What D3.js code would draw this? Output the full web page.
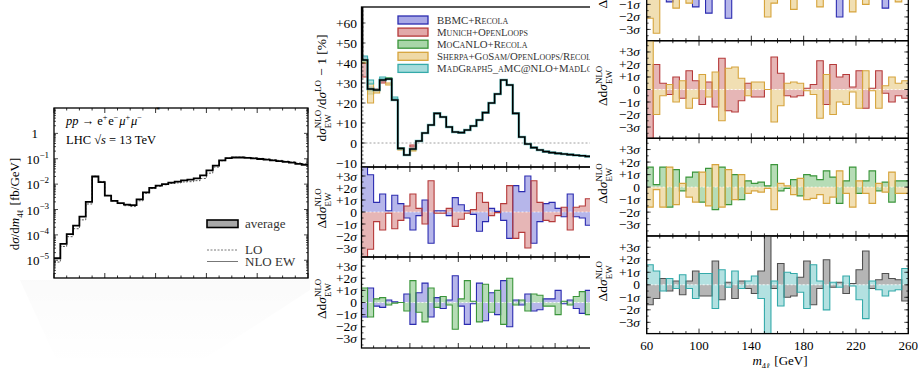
<!DOCTYPE html>
<html>
<head>
<meta charset="utf-8">
<script src="https://cdn.jsdelivr.net/npm/d3@7"></script>
<style>
  body { margin: 0; background: #fff; }
  svg { display: block; font-family: "Liberation Serif", "DejaVu Serif", serif; }
</style>
</head>
<body>
<svg id="chart" width="918" height="368"></svg>
<script>
// m4l bin edges [GeV]
const binEdges = [60, 65, 70, 75, 80, 85, 90, 95, 100, 105, 110, 115, 120, 125, 130, 135, 140, 145, 150, 155,
  160, 165, 170, 175, 180, 185, 190, 195, 200, 205, 210, 215, 220, 225, 230, 235, 240, 245, 250, 255, 260];

// d sigma / d m4l [fb/GeV]
const xsecNLO = [1.2e-5, 4.4e-5, 1.07e-4, 2.3e-4, 5.2e-4, 2.0e-3, 2.0e-2, 1.2e-2, 3.5e-3, 2.2e-3,
  1.8e-3, 1.55e-3, 1.5e-3, 2.5e-3, 4.7e-3, 7.1e-3, 8.7e-3, 1.0e-2, 1.15e-2, 1.25e-2,
  1.4e-2, 1.5e-2, 1.7e-2, 2.2e-2, 3.5e-2, 5.4e-2, 8.6e-2, 0.105, 0.112, 0.112,
  0.108, 0.103, 0.098, 0.092, 0.086, 0.081, 0.075, 0.070, 0.063, 0.058];
const xsecLO = [8.5e-6, 3.5e-5, 8.5e-5, 1.75e-4, 3.9e-4, 1.65e-3, 2.05e-2, 1.28e-2, 3.6e-3, 2.18e-3,
  1.71e-3, 1.42e-3, 1.31e-3, 2.21e-3, 4.35e-3, 6.7e-3, 8.3e-3, 9.4e-3, 1.06e-2, 1.12e-2,
  1.22e-2, 1.25e-2, 1.37e-2, 1.67e-2, 2.71e-2, 4.7e-2, 8.35e-2, 0.1055, 0.1146, 0.116,
  0.1128, 0.1082, 0.1034, 0.0974, 0.0913, 0.0863, 0.0801, 0.075, 0.0677, 0.0625];

// relative EW correction, average of the tools [%]
const relAverage = [41.5, 27, 26.5, 31.5, 32, 21.5, -2.7, -6, -3, 1,
  5, 9, 14.8, 13, 8, 5.5, 5.2, 6.5, 8.5, 11.5,
  15.2, 20, 24.5, 31.5, 29, 14.8, 3, -0.5, -2.3, -3.5,
  -4.3, -4.8, -5.2, -5.5, -5.8, -6.1, -6.4, -6.7, -7, -7.2];
// per-tool spread where it is visible: [tool, bin, low, high]
const relSpread = [
  ["bbmc", 0, 41, 43], ["munich", 0, 33, 40], ["mocanlo", 0, 40.5, 41.5], ["sherpa", 0, 40, 42], ["mg5", 0, 41.5, 43.5],
  ["bbmc", 1, 26.5, 28], ["munich", 1, 25, 26.5], ["mocanlo", 1, 24.5, 26], ["sherpa", 1, 20, 30], ["mg5", 1, 29.5, 31.5],
  ["munich", 2, 26, 27], ["sherpa", 2, 25, 26.5],
  ["mg5", 3, 32, 33], ["munich", 3, 30, 31], ["sherpa", 4, 29, 30], ["mocanlo", 4, 32, 32.6],
  ["mg5", 5, 22, 23], ["sherpa", 6, -3.5, -2.5], ["munich", 8, -2, -1], ["sherpa", 8, -4, -3.4]
];

// pairwise deviations in units of sigma (first tool; the second is its mirror)
const devBbmcMunich = [4.5, 3.1, 0.8, 1.5, 0.1, 1.4, 0.7, -0.5, -1.5, -0.3,
  1.0, -2.6, 0.1, 0.1, -0.3, 1.2, 0.6, 0.1, -0.2, -1.6,
  -0.8, 0.3, 0.05, -0.7, -2.2, 2.2, 1.7, 3.0, -2.6, -0.8,
  0.7, 0.8, 0.3, -0.4, 1.5, -0.4, -0.5, -1.1, -0.6, 0.5];
const devBbmcMocanlo = [-1.2, 1.2, -0.3, -0.4, 0.2, 0.05, 0.0, 0.7, -1.8, 0.8,
  1.6, -1.2, 0.4, -0.5, 0.2, 2.2, -0.3, -1.8, -0.1, 1.6,
  -1.5, 0.8, -1.0, 1.8, -2.0, 0.2, -0.2, 0.7, -0.7, -0.6,
  0.3, 0.3, 1.0, -0.1, 0.2, -0.5, -0.9, 1.0, 0.4, -0.3];
const devBbmcSherpa = [2.1, 3.3, 0.3, -0.8, 1.3, 0.4, 0.9, -1.2, 0.3, -1.7,
  0.5, 0.6, -2.1, 0.3, -0.4, 0.5, 0.2, -0.4, 2.0, 0.9,
  -0.3, 0.5, 1.4, -0.3, 0.6, 0.2, 1.2, -0.5, 0.6, -2.0,
  0.4, 1.6, 0.5, 1.0, 0.3, 0.2, -1.3, 0.3, 0.8, -0.5];
const devMunichSherpa = [-4.5, 2.0, 0.5, -0.4, 1.0, -0.7, 1.5, 0.7, -1.2, 0.6,
  -1.4, 2.5, -1.7, -1.8, -0.9, 0.5, -0.6, -0.6, 0.0, 2.6,
  1.3, -0.5, -0.6, -0.5, 0.1, 0.4, 2.3, -1.2, 2.0, 1.0,
  1.2, 0.2, 1.5, -1.5, 0.1, 1.5, -0.3, -1.0, -0.5, -0.7];
const devMocanloSherpa = [1.6, 0.2, 1.6, -1.6, 1.4, -0.3, 0.8, 1.2, -1.2, 1.5,
  -1.8, 1.6, -1.4, 1.0, -1.0, 0.5, 0.3, 0.4, 0.1, 1.8,
  -0.3, -0.1, 0.6, -0.7, 1.0, 0.9, 0.6, 1.3, 0.8, -1.3,
  0.5, 1.6, -0.5, 0.5, 1.3, -0.3, 0.4, -1.2, 0.5, 0.5];
const devAverageMg5 = [-1.6, -1.1, 0.5, -0.5, 0.3, -0.8, 0.3, 1.1, -0.9, -0.9,
  1.9, -1.2, 0.2, -1.1, 0.3, -0.3, -0.7, 1.1, 4.2, -0.3,
  1.7, -1.0, -0.9, 0.6, 1.9, -1.6, -0.3, 2.0, -0.2, 0.2,
  -0.7, 0.1, 1.2, 2.7, -0.3, 0.4, 0.9, 0.5, 0.4, -1.3];

const sigmaTicks = [-3, -2, -1, 0, 1, 2, 3];

const tools = {
  bbmc:    { name: "BBMC+Recola", fill: "#a9a9e6", stroke: "#2b2bb0" },
  munich:  { name: "Munich+OpenLoops", fill: "#e2a9a9", stroke: "#b53a3a" },
  mocanlo: { name: "MoCaNLO+Recola", fill: "#a9d6a9", stroke: "#3a953a" },
  sherpa:  { name: "Sherpa+GoSam/OpenLoops/Recola", fill: "#efd9a6", stroke: "#d6a43c" },
  mg5:     { name: "MadGraph5_aMC@NLO+MadLoop", fill: "#a6dcdc", stroke: "#34aaaa" },
  average: { name: "average", fill: "#a8a8a8", stroke: "#505050" }
};

const svg = d3.select("#chart");
const defs = svg.append("defs");
let clipCount = 0;
function clipRect(x, y, w, h) {
  const id = "clip" + (clipCount++);
  defs.append("clipPath").attr("id", id).append("rect")
    .attr("x", x).attr("y", y).attr("width", w).attr("height", h);
  return "url(#" + id + ")";
}

// step points: one point per bin start plus the last edge
function stepData(vals) {
  const pts = vals.map((v, i) => ({ m: binEdges[i], v: v }));
  pts.push({ m: binEdges[binEdges.length - 1], v: vals[vals.length - 1] });
  return pts;
}

// label built from pieces, with stacked super/subscripts
function mathLabel(parent, cx, cy, parts, opts) {
  opts = opts || {};
  const size = opts.size || 13;
  const g = parent.append("g")
    .attr("transform", "translate(" + cx + "," + cy + ")" + (opts.rotate ? " rotate(-90)" : ""));
  const inner = g.append("g");
  let x = 0;
  parts.forEach(p => {
    if (p.sup !== undefined || p.sub !== undefined) {
      let w = 0;
      if (p.sup) {
        const t = inner.append("text").attr("x", x).attr("y", -size * 0.42)
          .attr("font-size", size * 0.66).text(p.sup);
        w = Math.max(w, t.node().getComputedTextLength());
      }
      if (p.sub) {
        const t = inner.append("text").attr("x", x).attr("y", size * 0.3)
          .attr("font-size", size * 0.66).text(p.sub);
        w = Math.max(w, t.node().getComputedTextLength());
      }
      x += w + 0.8;
    } else {
      const t = inner.append("text").attr("x", x).attr("font-size", size)
        .attr("font-style", p.it ? "italic" : null).text(p.t.replace(/ /g, "\u00a0"));
      x += t.node().getComputedTextLength();
    }
  });
  const anchor = opts.anchor || "middle";
  const dx = anchor === "middle" ? -x / 2 : anchor === "end" ? -x : 0;
  inner.attr("transform", "translate(" + dx + "," + (opts.dy !== undefined ? opts.dy : size * 0.33) + ")");
  return g;
}

// x ticks on a horizontal edge, pointing into the panel
function xTicks(g, x, yEdge, dir) {
  for (let m = 60; m <= 260; m += 10) {
    const len = (m - 60) % 40 === 0 ? 5 : 2.5;
    g.append("line").attr("x1", x(m)).attr("x2", x(m))
      .attr("y1", yEdge).attr("y2", yEdge + dir * len)
      .attr("stroke", "#000").attr("stroke-width", 0.8);
  }
}
function yTicks(g, y, xL, xR, values, len) {
  values.forEach(v => {
    [[xL, 1], [xR, -1]].forEach(([xe, d]) => {
      g.append("line").attr("x1", xe).attr("x2", xe + d * len)
        .attr("y1", y(v)).attr("y2", y(v)).attr("stroke", "#000").attr("stroke-width", 0.7);
    });
  });
}

// one pairwise deviation panel
function deviationPanel(g, x, top, h, dom, vals, tA, tB, labelX, tickX) {
  const y = d3.scaleLinear().domain([-dom, dom]).range([top + h, top]);
  const clip = clipRect(x.range()[0], top, x.range()[1] - x.range()[0], h);
  const body = g.append("g").attr("clip-path", clip);
  const area = d3.area().curve(d3.curveStepAfter)
    .x(d => x(d.m)).y0(y(0)).y1(d => y(d.v));
  const line = d3.line().curve(d3.curveStepAfter)
    .x(d => x(d.m)).y(d => y(d.v));
  const series = [[stepData(vals), tools[tA]], [stepData(vals.map(v => -v)), tools[tB]]];
  series.forEach(([d, t]) => body.append("path").attr("d", area(d)).attr("fill", t.fill).attr("fill-opacity", 0.85));
  body.append("line").attr("x1", x.range()[0]).attr("x2", x.range()[1])
    .attr("y1", y(0)).attr("y2", y(0)).attr("stroke", "#fff").attr("stroke-width", 0.8)
    .attr("stroke-dasharray", "2,2");
  series.forEach(([d, t]) => body.append("path").attr("d", line(d)).attr("fill", "none")
    .attr("stroke", t.stroke).attr("stroke-width", 1.1));
  // axes
  yTicks(g, y, x.range()[0], x.range()[1], d3.range(-3.5, 3.51, 0.5), 2);
  yTicks(g, y, x.range()[0], x.range()[1], sigmaTicks, 4);
  xTicks(g, x, top + h, -1);
  xTicks(g, x, top, 1);
  g.append("rect").attr("x", x.range()[0]).attr("y", top)
    .attr("width", x.range()[1] - x.range()[0]).attr("height", h)
    .attr("fill", "none").attr("stroke", "#000").attr("stroke-width", 1.3);
  sigmaTicks.forEach(v => {
    const t = g.append("text").attr("x", tickX).attr("y", y(v) + 4.5)
      .attr("text-anchor", "end").attr("font-size", 13.5);
    if (v === 0) { t.text("0"); return; }
    t.append("tspan").text((v > 0 ? "+" : "\u2212") + Math.abs(v));
    t.append("tspan").attr("font-style", "italic").text("\u03c3");
  });
  mathLabel(g, labelX, top + h / 2 - 4, [{ t: "\u0394d" }, { t: "\u03c3", it: true }, { sup: "NLO", sub: "EW" }],
    { size: 13.5, rotate: true });
  return y;
}

// ================= middle figure =================
const gMid = svg.append("g");
const xMid = d3.scaleLinear().domain([60, 260]).range([361.5, 603.5]);
{
  const top = 7, h = 160;
  const y = d3.scaleLinear().domain([-12, 68]).range([top + h, top]);
  const body = gMid.append("g").attr("clip-path", clipRect(361.5, top, 242, h));
  body.append("line").attr("x1", 361.5).attr("x2", 603.5).attr("y1", y(0)).attr("y2", y(0))
    .attr("stroke", "#888").attr("stroke-width", 0.8).attr("stroke-dasharray", "2,2");
  relSpread.forEach(([tool, bin, lo, hi]) => {
    body.append("rect").attr("x", xMid(binEdges[bin])).attr("y", y(hi))
      .attr("width", xMid(binEdges[bin + 1]) - xMid(binEdges[bin])).attr("height", y(lo) - y(hi))
      .attr("fill", tools[tool].fill).attr("fill-opacity", 0.8)
      .attr("stroke", tools[tool].stroke).attr("stroke-width", 1);
  });
  const line = d3.line().curve(d3.curveStepAfter).x(d => xMid(d.m)).y(d => y(d.v));
  body.append("path").attr("d", line(stepData(relAverage))).attr("fill", "none")
    .attr("stroke", tools.mg5.stroke).attr("stroke-width", 2.6).attr("stroke-opacity", 0.7);
  body.append("path").attr("d", line(stepData(relAverage))).attr("fill", "none")
    .attr("stroke", "#000").attr("stroke-width", 1.6);
  // the first point is far off scale
  body.append("line").attr("x1", xMid(60) + 1).attr("x2", xMid(60) + 1)
    .attr("y1", top).attr("y2", y(relAverage[0])).attr("stroke", "#000").attr("stroke-width", 1.8);

  yTicks(gMid, y, 361.5, 603.5, d3.range(-10, 68, 2), 2);
  yTicks(gMid, y, 361.5, 603.5, d3.range(-10, 61, 10), 4);
  xTicks(gMid, xMid, top + h, -1);
  gMid.append("rect").attr("x", 361.5).attr("y", top).attr("width", 242).attr("height", h)
    .attr("fill", "none").attr("stroke", "#000").attr("stroke-width", 1.3);
  d3.range(-10, 61, 10).forEach(v => {
    gMid.append("text").attr("x", 357).attr("y", y(v) + 4.5).attr("text-anchor", "end")
      .attr("font-size", 13.5).text(v > 0 ? "+" + v : v < 0 ? "\u2212" + Math.abs(v) : "0");
  });
  mathLabel(gMid, 322, 88, [{ t: "d" }, { t: "\u03c3", it: true }, { sup: "NLO", sub: "EW" }, { t: "/d" },
    { t: "\u03c3", it: true }, { sup: "LO" }, { t: " \u2212 1 [%]" }], { size: 13.5, rotate: true });

  // legend
  const legendTools = ["bbmc", "munich", "mocanlo", "sherpa", "mg5"];
  legendTools.forEach((k, i) => {
    const ly = 20 + i * 12.1;
    gMid.append("rect").attr("x", 398).attr("y", ly - 4).attr("width", 30).attr("height", 8)
      .attr("fill", tools[k].fill).attr("stroke", tools[k].stroke).attr("stroke-width", 1.3);
    gMid.append("text").attr("x", 437).attr("y", ly + 4).attr("font-size", 10.8)
      .attr("font-variant", "small-caps").attr("fill", "#333").text(tools[k].name);
  });
}
deviationPanel(gMid, xMid, 167, 90, 3.75, devBbmcMunich, "bbmc", "munich", 322, 357);
deviationPanel(gMid, xMid, 257, 91, 3.75, devBbmcMocanlo, "bbmc", "mocanlo", 322, 357);

// ================= right figure =================
const gRight = svg.append("g");
gRight.append("rect").attr("x", 590).attr("y", 0).attr("width", 328).attr("height", 368).attr("fill", "#fff");
const xRight = d3.scaleLinear().domain([60, 260]).range([646.7, 908.3]);
const rightTops = [-56.9, 40.7, 138.3, 236];
const rightSets = [[devBbmcSherpa, "bbmc", "sherpa"], [devMunichSherpa, "munich", "sherpa"],
  [devMocanloSherpa, "mocanlo", "sherpa"], [devAverageMg5, "average", "mg5"]];
rightSets.forEach(([vals, a, b], i) => {
  deviationPanel(gRight, xRight, rightTops[i], 97.6, 3.9, vals, a, b, 603, 640);
});
[60, 100, 140, 180, 220, 260].forEach(m => {
  gRight.append("text").attr("x", xRight(m)).attr("y", 350).attr("text-anchor", "middle")
    .attr("font-size", 13).text(m);
});
mathLabel(gRight, 780, 361, [{ t: "m", it: true }, { sub: "4\u2113" }, { t: " [GeV]" }], { size: 13 });

// ================= left figure =================
const gLeft = svg.append("g");
const shade = defs.append("linearGradient").attr("id", "shade").attr("x1", 0).attr("y1", 0).attr("x2", 0).attr("y2", 1);
shade.append("stop").attr("offset", 0).attr("stop-color", "#000").attr("stop-opacity", 0.018);
shade.append("stop").attr("offset", 1).attr("stop-color", "#000").attr("stop-opacity", 0);
gLeft.append("path").attr("d", "M20,280L310,280L310,290L190,368L60,368Z").attr("fill", "url(#shade)");
gLeft.append("rect").attr("x", 0).attr("y", 100).attr("width", 310).attr("height", 180).attr("fill", "#fff");
const xLeft = d3.scaleLinear().domain([60, 260]).range([54, 308]);
const yLeft = d3.scaleLog().domain([2e-6, 10]).range([278, 108]);
{
  const body = gLeft.append("g").attr("clip-path", clipRect(54, 108, 254, 170));
  const line = d3.line().curve(d3.curveStepAfter).x(d => xLeft(d.m)).y(d => yLeft(d.v));
  body.append("path").attr("d", line(stepData(xsecLO))).attr("fill", "none")
    .attr("stroke", "#444").attr("stroke-width", 0.9).attr("stroke-dasharray", "2,1.5");
  body.append("path").attr("d", line(stepData(xsecNLO))).attr("fill", "none")
    .attr("stroke", "#000").attr("stroke-width", 1.8);
  // minor log ticks
  const minorVals = [];
  for (let e = -6; e <= 0; e++) for (let k = 2; k <= 9; k++) {
    const v = k * Math.pow(10, e);
    if (v > 2e-6 && v < 10) minorVals.push(v);
  }
  yTicks(gLeft, yLeft, 54, 308, minorVals, 2);
  yTicks(gLeft, yLeft, 54, 308, [1e-5, 1e-4, 1e-3, 1e-2, 1e-1, 1], 4);
  xTicks(gLeft, xLeft, 278, -1);
  xTicks(gLeft, xLeft, 108, 1);
  gLeft.append("rect").attr("x", 54).attr("y", 108).attr("width", 254).attr("height", 170)
    .attr("fill", "none").attr("stroke", "#000").attr("stroke-width", 1.3);
  [-5, -4, -3, -2, -1].forEach(e => {
    const t = gLeft.append("text").attr("x", 49).attr("y", yLeft(Math.pow(10, e)) + 5)
      .attr("text-anchor", "end").attr("font-size", 13);
    t.append("tspan").text("10");
    t.append("tspan").attr("dy", -6).attr("font-size", 9).text("\u2212" + Math.abs(e));
  });
  gLeft.append("text").attr("x", 38).attr("y", yLeft(1) + 5).attr("text-anchor", "end")
    .attr("font-size", 13).text("1");
  gLeft.append("text").attr("x", 158).attr("y", 113).attr("text-anchor", "middle")
    .attr("font-size", 9).text("*");
  mathLabel(gLeft, 15, 204, [{ t: "d" }, { t: "\u03c3", it: true }, { t: "/d" }, { t: "m", it: true },
    { sub: "4\u2113" }, { t: " [fb/GeV]" }], { size: 13, rotate: true });
  mathLabel(gLeft, 66, 121, [{ t: "pp", it: true }, { t: " \u2192 e" }, { sup: "+" }, { t: "e" }, { sup: "\u2212" },
    { t: "\u03bc", it: true }, { sup: "+" }, { t: "\u03bc", it: true }, { sup: "\u2212" }], { size: 12.5, anchor: "start" });
  mathLabel(gLeft, 66, 140, [{ t: "LHC \u221a" }, { t: "s", it: true }, { t: " = 13 TeV" }], { size: 12.5, anchor: "start" });

  // legend
  gLeft.append("rect").attr("x", 207).attr("y", 220).attr("width", 31).attr("height", 7.5)
    .attr("fill", "#a8a8a8").attr("stroke", "#000").attr("stroke-width", 1.6);
  gLeft.append("text").attr("x", 245).attr("y", 228).attr("font-size", 13).attr("fill", "#333").text("average");
  gLeft.append("line").attr("x1", 207).attr("x2", 238).attr("y1", 250).attr("y2", 250)
    .attr("stroke", "#555").attr("stroke-width", 0.8).attr("stroke-dasharray", "2,1.5");
  gLeft.append("text").attr("x", 245).attr("y", 254).attr("font-size", 13).attr("fill", "#333").text("LO");
  gLeft.append("line").attr("x1", 207).attr("x2", 238).attr("y1", 261.5).attr("y2", 261.5)
    .attr("stroke", "#777").attr("stroke-width", 1);
  gLeft.append("text").attr("x", 245).attr("y", 266).attr("font-size", 13).attr("fill", "#333").text("NLO\u00a0EW");
}
</script>
</body>
</html>
